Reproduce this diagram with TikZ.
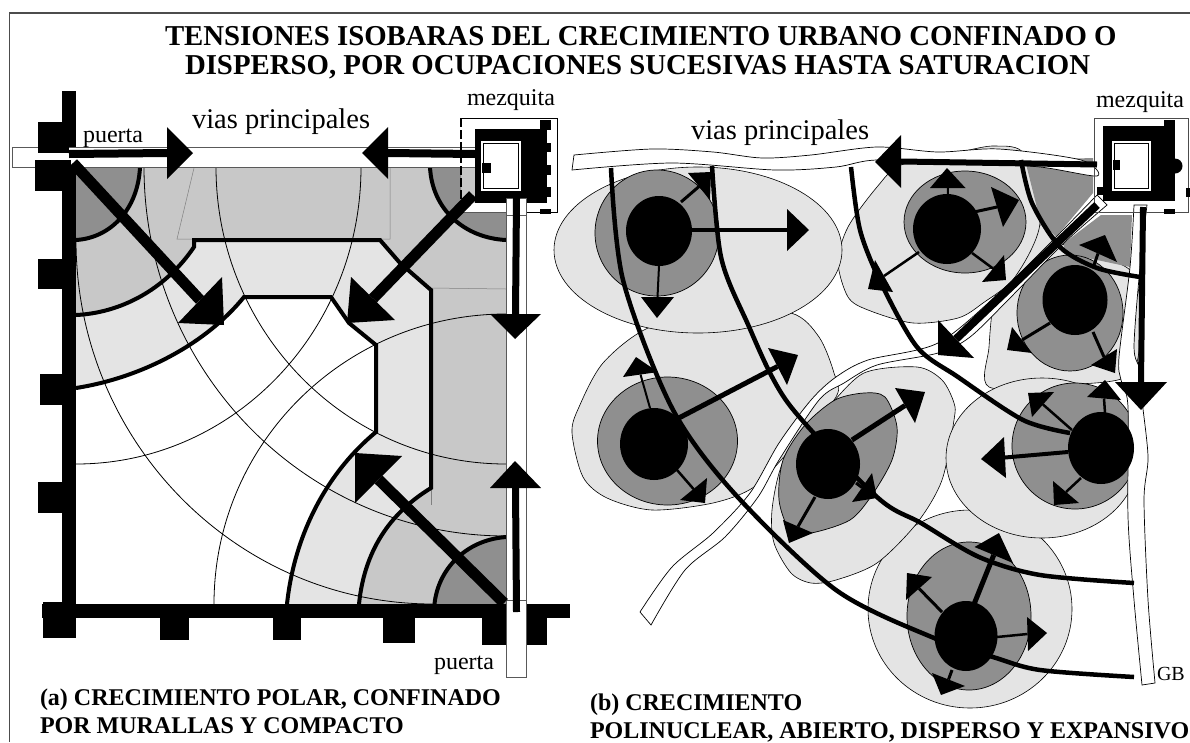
\documentclass[tikz,border=0pt]{standalone}
\usepackage{fontspec}
\setmainfont{Liberation Serif}
\usetikzlibrary{calc}
\definecolor{gdark}{HTML}{8F8F8F}
\definecolor{gmid}{HTML}{C8C8C8}
\definecolor{glight}{HTML}{E4E4E4}
\newcommand\fnt[1]{\fontsize{#1}{#1}\selectfont}
\newcommand\arr[6]{% width, start, base1, base2, tip, unused
  \draw[line width=#1pt,black] #2 -- ($#3!.5!#4$);
  \fill[black] #3 -- #4 -- #5 -- cycle;}
\tikzset{
  thinarc/.style={black,line width=.8pt},
  thickarc/.style={black,line width=4pt,line join=miter},
  isobar/.style={black,line width=4.5pt},
  lightblob/.style={fill=glight,draw=black,line width=.6pt},
  darkblob/.style={fill=gdark,draw=black,line width=.7pt},
  nucleus/.style={fill=black},
  roadline/.style={draw=black,line width=.7pt},
  lab/.style={anchor=base west,inner sep=0pt,outer sep=0pt,text=black}
}
\begin{document}
\begin{tikzpicture}[x=1pt,y=-1pt]
\useasboundingbox (0,0) rectangle (1190,742);
\fill[white] (0,0) rectangle (1190,742);
% frame
\draw[gray!60!black,line width=1.2pt] (1190,13) -- (9.5,13) -- (9.5,742);
% ---------- left diagram: zones
\fill[gmid] (76,167) rectangle (506,604);
\fill[white] (461,203) rectangle (506,212);
\fill[glight] (76,315) .. controls (120,313) and (165,290) .. (194,247) -- (194,240) -- (380,240) -- (400,263) -- (431,290) -- (431,488) .. controls (395,510) and (365,545) .. (359,604) -- (76,604) -- cycle;
\fill[white] (76,388) .. controls (140,378) and (205,345) .. (244,297) -- (331,297) -- (349,323) -- (376,345) -- (376,432) .. controls (330,470) and (295,530) .. (287,604) -- (76,604) -- cycle;
\fill[gdark] (76,167) -- (140,167) .. controls (138,210) and (110,238) .. (76,240) -- cycle;
\fill[gdark] (430,167) -- (461,167) -- (461,212) -- (506,212) -- (506,240) .. controls (465,238) and (432,210) .. (430,167) -- cycle;
\fill[gdark] (506,604) -- (434.5,604) .. controls (438,570) and (465,540) .. (506,537) -- cycle;
\draw[gray,line width=.5pt] (194,168) -- (177,239) -- (390,239) -- (390,168);
\draw[gray,line width=.5pt] (431,288) -- (506,289);
\draw[gray,line width=.5pt] (431,488) -- (431,505);
% thin arcs
\draw[thinarc] (144,167) arc[start angle=180,end angle=270,x radius=362pt,y radius=369pt];
\draw[thinarc] (216,167) arc[start angle=180,end angle=270,x radius=290pt,y radius=297pt];
\draw[thinarc] (361,167) arc[start angle=0,end angle=-90,x radius=285pt,y radius=297pt];
\draw[thinarc] (76,240) arc[start angle=180,end angle=270,x radius=357pt,y radius=364pt];
\draw[thinarc] (214,604) arc[start angle=180,end angle=90,x radius=292pt,y radius=290pt];
% thick zone limits
\draw[thickarc] (140,167) .. controls (138,210) and (110,238) .. (76,240);
\draw[thickarc] (430,167) .. controls (432,210) and (465,238) .. (506,240);
\draw[thickarc] (506,537) .. controls (465,540) and (438,570) .. (434.5,604);
\draw[thickarc] (76,315) .. controls (120,313) and (165,290) .. (194,247) -- (194,240) -- (380,240) -- (400,263) -- (431,290) -- (431,488) .. controls (395,510) and (365,545) .. (359,604);
\draw[thickarc] (76,388) .. controls (140,378) and (205,345) .. (244,297) -- (331,297) -- (349,323) -- (376,345) -- (376,432) .. controls (330,470) and (295,530) .. (287,604);
% walls
\fill[black] (62,91) rectangle (76,147);
\fill[black] (62,160) rectangle (76,618);
\fill[black] (42,604) rectangle (570,618);
% roads
\draw[fill=white,draw=gray!70!black,line width=.8pt] (12,147) rectangle (475,167);
\draw[fill=white,draw=gray!70!black,line width=.8pt] (506.5,198) rectangle (526,677);
% towers
\fill[black] (38,122) rectangle (69,153);
\fill[black] (35,160) rectangle (71,191);
\fill[black] (38,259) rectangle (62,289);
\fill[black] (40,374) rectangle (62,405);
\fill[black] (38,482) rectangle (62,513);
\fill[black] (42.5,602) rectangle (76,638);
\fill[black] (160,618) rectangle (189,640);
\fill[black] (273,618) rectangle (301,640);
\fill[black] (383,618) rectangle (415,643);
\fill[black] (482,618) rectangle (506,645);
\fill[black] (527,618) rectangle (547,645);
\draw[fill=white,draw=gray!70!black,line width=.8pt] (506.5,600) rectangle (526,677);
% mosque left
\draw[black,line width=.8pt] (461,118) -- (557,118) -- (557,212) -- (526,212);
\draw[gray!70!black,line width=.8pt] (461,212) -- (506,212);
\draw[black,line width=1.6pt,dash pattern=on 9pt off 3pt] (461,118) -- (461,200);
\fill[black] (474.5,129) rectangle (547,203);
\fill[black] (540,120) rectangle (551,130);
\fill[black] (545,143) rectangle (551,152);
\fill[black] (545,165) rectangle (551,175);
\fill[black] (545,187) rectangle (551,197);
\fill[black] (540,209) rectangle (551,214);
\draw[fill=white,draw=white,line width=1pt] (481,141) rectangle (520,190);
\draw[fill=white,draw=black,line width=.6pt] (483,143) rectangle (518,188);
\fill[black] (482,163) rectangle (491,173);
\draw[fill=white,draw=gray!70!black,line width=.8pt] (506.5,198) rectangle (526,215);
% arrows left
\arr{8}{(69,154)}{(167,127)}{(167,179)}{(193,153)}{}
\arr{8}{(475,154)}{(388,127)}{(388,179)}{(362,153)}{}
\arr{7}{(516.5,198)}{(490,314)}{(541,314)}{(515,339)}{}
\arr{7}{(516.5,612)}{(490,488)}{(541,488)}{(515,461)}{}
\arr{11}{(73,163)}{(222,277)}{(178,323)}{(224,325)}{}
\arr{11}{(473,195)}{(351,277)}{(395,320)}{(347,323)}{}
\arr{11}{(504,603)}{(402,456)}{(355,503)}{(355,453)}{}
% ---------- right diagram: blobs
\filldraw[lightblob] (970,609) ellipse [x radius=102pt,y radius=99pt];
\filldraw[lightblob] plot[smooth cycle] coordinates {(827,408) (864,373) (917,367) (942,380) (954,403) (954,420) (942,480) (917,523) (877,563) (836,580) (811,583) (791,573) (774,543) (772,510) (781,467) (803,427)};
\filldraw[lightblob] plot[smooth cycle] coordinates {(989,347) (995,297) (1015,267) (1040,225) (1064,245) (1130,270) (1140,320) (1130,375) (1060,385) (989,387)};
\filldraw[lightblob] (1042,458) ellipse [x radius=96pt,y radius=80pt];
\filldraw[lightblob] plot[smooth cycle] coordinates {(572,433) (579,407) (603,363) (648,328) (720,310) (791,313) (819,337) (834,373) (836,397) (790,450) (754,487) (713,503) (652,510) (607,498) (583,477)};
\filldraw[lightblob] plot[smooth cycle] coordinates {(838,262) (848,227) (877,187) (901,165) (960,152) (995,146) (1025,155) (1040,223) (1015,277) (983,303) (958,318) (913,323) (868,310) (848,297)};
\fill[gdark] (1025,160) -- (1093,158) -- (1093,193) -- (1056,237) -- (1040,220) -- cycle;
\fill[gdark] (1101,215) -- (1132,215) -- (1130,267) -- (1064,253) -- (1064,243) -- cycle;
\filldraw[lightblob] (698,250) ellipse [x radius=144pt,y radius=83pt];
% dark cores
\filldraw[darkblob] (657,233) ellipse [x radius=62pt,y radius=63pt];
\filldraw[darkblob] (667.5,441) ellipse [x radius=70pt,y radius=64pt];
\filldraw[darkblob] plot[smooth cycle] coordinates {(864,393) (885,397) (897,427) (892,460) (872,495) (850,520) (811,533) (790,530) (779,500) (783,460) (805,425) (835,400)};
\filldraw[darkblob] (965,222) ellipse [x radius=61pt,y radius=51pt];
\filldraw[darkblob] (1070,313) ellipse [x radius=53pt,y radius=58pt];
\filldraw[darkblob] (1075,446) ellipse [x radius=63pt,y radius=63pt];
\filldraw[darkblob] (969,616) ellipse [x radius=62pt,y radius=74pt];
% roads
\filldraw[fill=white,roadline] plot[smooth] coordinates {(574,155) (652,149) (713,152) (762,158) (811,155) (877,147) (938,152) (999,149) (1081,160) (1097,176) (1040,167) (970,163) (877,160) (836,167) (775,170) (672,163) (572,170)} -- cycle;
\filldraw[fill=white,roadline] plot[smooth] coordinates {(1097,195) (1056,237) (999,293) (938,343) (868,360) (836,377) (811,400) (779,443) (750,493) (713,533) (672,567) (640,612)} -- (651,625) -- plot[smooth] coordinates {(651,625) (685,570) (725,537) (758,497) (779,460) (819,400) (844,383) (877,365) (938,353) (970,337) (1011,297) (1064,243) (1107,205)} -- cycle;
\filldraw[fill=white,roadline] plot[smooth] coordinates {(1134,205) (1130,267) (1119,357) (1121,380) (1128,407) (1128,517) (1134,600) (1142,685)} -- plot[smooth] coordinates {(1155,683) (1148,600) (1144,500) (1148,457) (1142,400) (1140,370) (1134,347) (1140,267) (1147,205)} -- cycle;
% isobars
\draw[isobar] plot[smooth] coordinates {(611,168) (623,280) (672,408) (734,493) (836,590) (934,638) (993,657) (1040,670) (1134,677)};
\draw[isobar] plot[smooth] coordinates {(712,166) (721,257) (746,320) (788,403) (877,497) (921,523) (979,557) (1040,575) (1134,583)};
\draw[isobar] plot[smooth] coordinates {(851,167) (860,230) (881,283) (917,347) (958,377) (1023,420) (1070,433)};
\draw[isobar] plot[smooth] coordinates {(1021,160) (1032,203) (1060,247) (1097,268) (1140,277)};
% nuclei
\fill[nucleus] (659,231) ellipse [x radius=33pt,y radius=35pt];
\fill[nucleus] (654,444) ellipse [x radius=34pt,y radius=36pt];
\fill[nucleus] (828,464) ellipse [x radius=32pt,y radius=35pt];
\fill[nucleus] (947,229) ellipse [x radius=34pt,y radius=35pt];
\fill[nucleus] (1075,300) ellipse [x radius=32.5pt,y radius=35pt];
\fill[nucleus] (1101,448) ellipse [x radius=33pt,y radius=36pt];
\fill[nucleus] (966,636) ellipse [x radius=31.5pt,y radius=35pt];
% arrows
\arr{4}{(692,230)}{(787,209)}{(787,251)}{(809,230)}{}
\arr{2}{(659,266)}{(641,297)}{(674,297)}{(657,318)}{}
\arr{3}{(681,202)}{(688,173)}{(710,200)}{(711,172)}{}
\arr{2}{(650,408)}{(623,377)}{(658,372)}{(636,357)}{}
\arr{5}{(675,420)}{(768,348)}{(787,385)}{(798,355)}{}
\arr{2.5}{(677,470)}{(707,478)}{(680,500)}{(705,503)}{}
\arr{5}{(852,440)}{(895,388)}{(915,423)}{(925,392)}{}
\arr{3}{(856,483)}{(872,473)}{(852,502)}{(877,498)}{}
\arr{3}{(815,497)}{(783,520)}{(813,533)}{(789,543)}{}
\arr{2}{(948,195)}{(930,188)}{(965.5,188)}{(947,168)}{}
\arr{3}{(974,212)}{(991,187)}{(1003,227)}{(1019,200)}{}
\arr{2.5}{(972,253)}{(1004,255)}{(982,282)}{(1006,280)}{}
\arr{2.5}{(919,252)}{(875,260)}{(893,292)}{(868,289)}{}
\arr{3}{(1093,268)}{(1079,245)}{(1117,262)}{(1105,235)}{}
\arr{3}{(1050,323)}{(1012,327)}{(1032,353)}{(1007,350)}{}
\arr{3}{(1093,332)}{(1117,349)}{(1091,365)}{(1115,373)}{}
\arr{4}{(1068,452)}{(1004,437)}{(1006,478)}{(981,459)}{}
\arr{2.5}{(1081,478)}{(1053,481)}{(1079,503)}{(1054,505)}{}
\arr{2.5}{(1072,430)}{(1054,392)}{(1032,417)}{(1028,393)}{}
\arr{2.5}{(1105,413)}{(1087,397)}{(1121,400)}{(1105,380)}{}
\arr{5}{(974.5,603)}{(974.5,547)}{(1013,563)}{(999,533)}{}
\arr{3}{(942,612)}{(906,600)}{(932,577)}{(907,573)}{}
\arr{2.5}{(997,637)}{(1027,617)}{(1028,651)}{(1047,633)}{}
\arr{3}{(952,670)}{(932,673)}{(965,686)}{(941,695)}{}
% mosque right
\draw[gray!60!black,line width=.9pt] (1094,118) rectangle (1188,212);
\fill[black] (1103,126) rectangle (1175,201);
\fill[black] (1164,120) rectangle (1175,126);
\fill[black] (1175,166) circle [radius=7.5pt];
\fill[black] (1164,209) rectangle (1175,214);
\fill[black] (1097,187) rectangle (1103,195);
\fill[black] (1186,188) rectangle (1190,197);
\draw[fill=white,draw=white,line width=1pt] (1112,141) rectangle (1150,190);
\draw[fill=white,draw=black,line width=.6pt] (1114,143) rectangle (1148,188);
\fill[black] (1113,160) rectangle (1120,170);
% big arrows right
\arr{6}{(1097,164.5)}{(901,135)}{(901,188)}{(875,162)}{}
\arr{8}{(1097,205)}{(938,320)}{(974,358)}{(938,355)}{}
\arr{6}{(1143,207)}{(1115,382)}{(1167,382)}{(1141,410)}{}
% texts
\node[lab,font=\bfseries\fnt{28.8}] (tit1) at (165,45) {TENSIONES ISOBARAS DEL CRECIMIENTO URBANO CONFINADO O};
\node[lab,font=\bfseries\fnt{28.8}] (tit2) at (185,74) {DISPERSO, POR OCUPACIONES SUCESIVAS HASTA SATURACION};
\node[lab,font=\fnt{24}] (pu1) at (83,142) {puerta};
\node[lab,font=\fnt{28.5}] (vi1) at (192,128) {vias principales};
\node[lab,font=\fnt{24}] (me1) at (467,105) {mezquita};
\node[lab,font=\fnt{24}] (pu2) at (434,669) {puerta};
\node[lab,font=\bfseries\fnt{24}] (ca1) at (40,705) {(a) CRECIMIENTO POLAR, CONFINADO};
\node[lab,font=\bfseries\fnt{24}] (ca2) at (40,733) {POR MURALLAS Y COMPACTO};
\node[lab,font=\fnt{28.5}] (vi2) at (691,139) {vias principales};
\node[lab,font=\fnt{24}] (me2) at (1096,107) {mezquita};
\node[lab,font=\fnt{20}] (gb) at (1157,680) {GB};
\node[lab,font=\bfseries\fnt{24}] (cb1) at (590,710) {(b) CRECIMIENTO};
\node[lab,font=\bfseries\fnt{24}] (cb2) at (590,738) {POLINUCLEAR, ABIERTO, DISPERSO Y EXPANSIVO};
\end{tikzpicture}
\end{document}
